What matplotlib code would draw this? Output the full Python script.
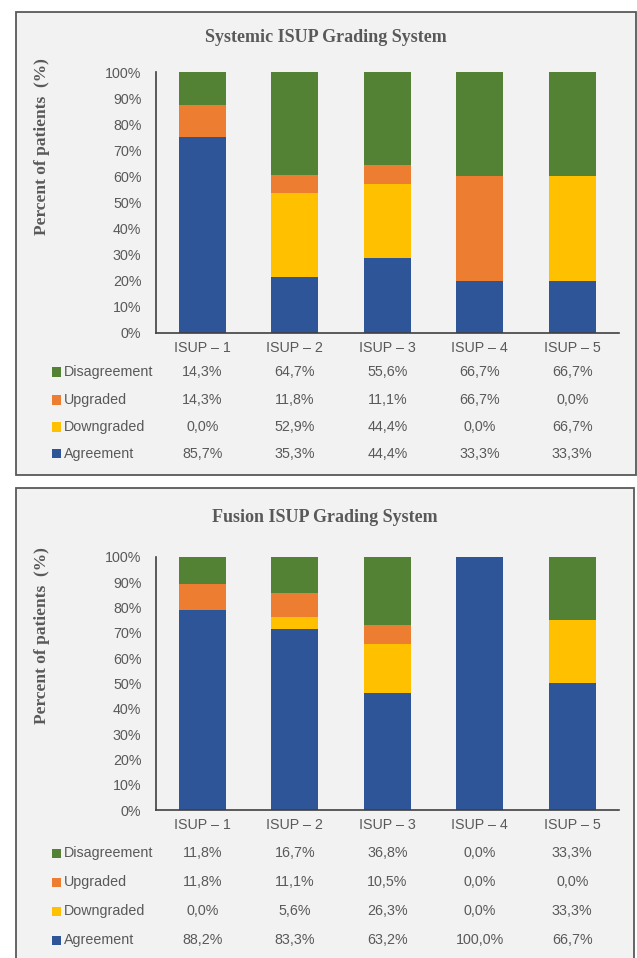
import matplotlib
matplotlib.use("Agg")
import matplotlib.pyplot as plt
import matplotlib.transforms as mtransforms
from matplotlib.patches import Rectangle
import numpy as np

W, H = 637, 958

categories = ["ISUP – 1", "ISUP – 2", "ISUP – 3", "ISUP – 4", "ISUP – 5"]
series_names = ["Disagreement", "Upgraded", "Downgraded", "Agreement"]

# table values (%) as printed below each chart
systemic_agreement = [85.7, 35.3, 44.4, 33.3, 33.3]
systemic_downgraded = [0.0, 52.9, 44.4, 0.0, 66.7]
systemic_upgraded = [14.3, 11.8, 11.1, 66.7, 0.0]
systemic_disagreement = [14.3, 64.7, 55.6, 66.7, 66.7]

fusion_agreement = [88.2, 83.3, 63.2, 100.0, 66.7]
fusion_downgraded = [0.0, 5.6, 26.3, 0.0, 33.3]
fusion_upgraded = [11.8, 11.1, 10.5, 0.0, 0.0]
fusion_disagreement = [11.8, 16.7, 36.8, 0.0, 33.3]

COLORS = {
    "Agreement": "#2E5597",
    "Downgraded": "#FFC000",
    "Upgraded": "#ED7D31",
    "Disagreement": "#548235",
}
GREY = "#595959"
SANS = ["Liberation Sans", "DejaVu Sans"]
SERIF = ["Liberation Serif", "DejaVu Serif"]
FS = 10.3


def fx(px):
    return px / W


def fy(py):
    return 1 - py / H


fig = plt.figure(figsize=(W / 100, H / 100), dpi=100)
fig.patch.set_facecolor("white")


def draw_panel(frame, title, title_y, ax_box, ylabel_y, row_ys, data):
    x0, y0, x1, y1 = frame
    fig.add_artist(Rectangle((fx(x0), fy(y1)), fx(x1 - x0), (y1 - y0) / H,
                             transform=fig.transFigure, facecolor="#F2F2F2",
                             edgecolor=GREY, linewidth=1.3, zorder=-5))
    fig.text(fx((x0 + x1) / 2), fy(title_y), title, ha="center", va="center",
             family=SERIF, fontweight="bold", fontsize=13, color=GREY)

    left, right, top, bottom = ax_box
    ax = fig.add_axes([fx(left), fy(bottom), (right - left) / W, (bottom - top) / H])
    ax.set_facecolor("none")

    x = np.arange(len(categories))
    total = np.zeros(len(categories))
    for name in series_names:
        total += np.array(data[name])
    pct = {k: 100 * np.array(v) / total for k, v in data.items()}

    bottom_acc = np.zeros(len(categories))
    for name in ["Agreement", "Downgraded", "Upgraded", "Disagreement"]:
        ax.bar(x, pct[name], width=0.51, bottom=bottom_acc,
               color=COLORS[name], linewidth=0)
        bottom_acc += pct[name]

    ax.set_xlim(-0.5, len(categories) - 0.5)
    ax.set_ylim(0, 100)
    ax.set_yticks(np.arange(0, 101, 10))
    ax.set_yticklabels([f"{v}%" for v in range(0, 101, 10)])
    ax.set_xticks(x)
    ax.set_xticklabels(categories)
    ax.tick_params(length=0, colors=GREY, labelsize=FS)
    ax.tick_params(axis="x", pad=6)
    ax.tick_params(axis="y", pad=10.5)
    for lab in ax.get_xticklabels() + ax.get_yticklabels():
        lab.set_family(SANS)
    for side in ["top", "right"]:
        ax.spines[side].set_visible(False)
    for side in ["left", "bottom"]:
        ax.spines[side].set_color("#404040")
        ax.spines[side].set_linewidth(1.2)

    fig.text(fx(42), fy(ylabel_y), "Percent of patients  (%)", rotation=90,
             ha="center", va="center", family=SERIF, fontweight="bold",
             fontsize=12.5, color=GREY)

    # data table under the chart
    trans = mtransforms.blended_transform_factory(ax.transData, fig.transFigure)
    for name, ry in zip(series_names, row_ys):
        sq = 9
        fig.add_artist(Rectangle((fx(52), fy(ry + sq / 2)), sq / W, sq / H,
                                 transform=fig.transFigure,
                                 facecolor=COLORS[name], linewidth=0))
        fig.text(fx(64), fy(ry), name, ha="left", va="center",
                 family=SANS, fontsize=FS, color=GREY)
        for xi, v in zip(x, data[name]):
            ax.text(xi, fy(ry), f"{v:.1f}%".replace(".", ","), transform=trans,
                    ha="center", va="center", family=SANS, fontsize=FS,
                    color=GREY)
    return ax


draw_panel((16, 12, 636, 475), "Systemic ISUP Grading System", 38,
           (156, 618.5, 72, 333), 147, [372, 400, 427, 454],
           {"Agreement": systemic_agreement, "Downgraded": systemic_downgraded,
            "Upgraded": systemic_upgraded, "Disagreement": systemic_disagreement})

draw_panel((16, 488, 634, 965), "Fusion ISUP Grading System", 518,
           (156, 618.5, 557, 810), 636, [853, 882, 911, 940],
           {"Agreement": fusion_agreement, "Downgraded": fusion_downgraded,
            "Upgraded": fusion_upgraded, "Disagreement": fusion_disagreement})

fig.savefig("out.png", dpi=100, facecolor=fig.get_facecolor())
